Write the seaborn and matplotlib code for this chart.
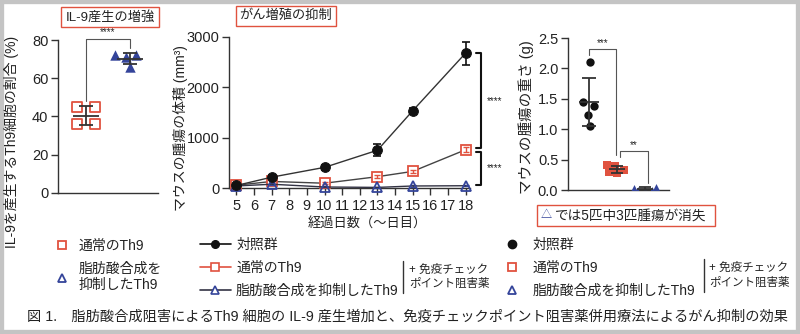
import numpy as np
import pandas as pd
import matplotlib
matplotlib.use("Agg")
import matplotlib.pyplot as plt
import seaborn as sns
from matplotlib.lines import Line2D
from matplotlib.patches import Rectangle

# ---------------- data ----------------
il9_groups = ["通常のTh9", "脂肪酸合成を抑制したTh9"]
il9_normal = [45, 45, 36, 36]
il9_fasi = [72, 72, 71, 66]
il9_ticks = [0, 20, 40, 60, 80]

days = [5, 7, 10, 13, 15, 18]
day_ticks = list(range(5, 19))
vol_control = [50, 215, 410, 750, 1535, 2680]
vol_control_err = [20, 35, 45, 120, 60, 230]
vol_normal = [55, 130, 95, 225, 330, 760]
vol_normal_err = [15, 20, 25, 30, 35, 45]
vol_fasi = [40, 75, 20, 12, 40, 45]
vol_fasi_err = [10, 15, 10, 10, 15, 15]
vol_ticks = [0, 1000, 2000, 3000]

weight_groups = ["対照群", "通常のTh9", "脂肪酸合成を抑制したTh9"]
weight_control = [2.10, 1.44, 1.38, 1.23, 1.06]
weight_normal = [0.41, 0.40, 0.33, 0.29, 0.28]
weight_fasi = [0.05, 0.04, 0.0, 0.0, 0.0]
weight_ticks = [0.0, 0.5, 1.0, 1.5, 2.0, 2.5]

legend_labels = ["対照群", "通常のTh9", "脂肪酸合成を抑制したTh9"]
left_legend_labels = ["通常のTh9", "脂肪酸合成を\n抑制したTh9"]
combo_text = "+ 免疫チェック\nポイント阻害薬"
caption = "図 1.　脂肪酸合成阻害によるTh9 細胞の IL-9 産生増加と、免疫チェックポイント阻害薬併用療法によるがん抑制の効果"

# ---------------- style ----------------
RED = "#e0523f"
BLUE = "#34449a"
BLACK = "#111111"
DARK = "#333333"

sns.set_theme(style="ticks")
plt.rcParams["font.family"] = ["Liberation Sans", "Noto Sans CJK JP", "DejaVu Sans"]
plt.rcParams["text.color"] = "#222222"
plt.rcParams["axes.edgecolor"] = DARK
plt.rcParams["axes.linewidth"] = 1.0

W, H = 800, 334
fig = plt.figure(figsize=(W / 100, H / 100), dpi=100)
fig.patch.set_facecolor("white")


def fx(px):
    return px / W


def fy(py):
    return 1 - py / H


def make_ax(l, t, r, b):
    return fig.add_axes([fx(l), fy(b), (r - l) / W, (b - t) / H])


def style_ax(ax):
    sns.despine(ax=ax)
    ax.tick_params(axis="both", direction="out", length=5, width=1,
                   color=DARK, labelsize=10.5, labelcolor="#222222", pad=2)
    ax.set_facecolor("none")


swarms = []


def swarm(ax, values, group, order, marker, color, size, spread, filled):
    df = pd.DataFrame({"g": [group] * len(values), "v": values})
    n0 = len(ax.collections)
    sns.swarmplot(data=df, x="g", y="v", order=order, marker=marker,
                  color=color, size=spread, linewidth=0, ax=ax, zorder=3)
    coll = ax.collections[n0]
    swarms.append((coll, order.index(group), size, color, filled))


def mean_sd(ax, pos, values, cap, half):
    m = np.mean(values)
    sd = np.std(values, ddof=1)
    ax.errorbar([pos], [m], yerr=[sd], fmt="none", ecolor=DARK,
                elinewidth=1.3, capsize=cap, capthick=1.3, zorder=4)
    ax.hlines(m, pos - half, pos + half, color=DARK, lw=1.3, zorder=4)


# ---------------- panel 1 ----------------
ax1 = make_ax(58, 40, 158, 193)
swarm(ax1, il9_normal, il9_groups[0], il9_groups, "s", RED, 7.5, 12, False)
swarm(ax1, il9_fasi, il9_groups[1], il9_groups, "^", BLUE, 7.5, 7.5, False)
mean_sd(ax1, 0, il9_normal, 5, 0.3)
mean_sd(ax1, 1, il9_fasi, 5, 0.3)
ax1.set_xlim(-0.64, 1.64)
ax1.set_ylim(0, 80)
ax1.set_yticks(il9_ticks)
ax1.set_xticks([])
ax1.set_xlabel("")
ax1.set_ylabel("")
style_ax(ax1)
ax1.plot([0, 0, 1, 1], [48, 80.5, 80.5, 76], color="#555555", lw=0.8, clip_on=False)
ax1.text(0.5, 81.5, "****", ha="center", va="bottom", fontsize=7, clip_on=False)

# ---------------- panel 2 ----------------
ax2 = make_ax(229, 37, 470, 188)
sns.lineplot(x=days, y=vol_control, ax=ax2, color=DARK, lw=1, marker="o",
             markersize=7, markerfacecolor=BLACK, markeredgecolor=BLACK,
             zorder=5, clip_on=False)
sns.lineplot(x=days, y=vol_normal, ax=ax2, color="#444444", lw=1, marker="s",
             markersize=7, markerfacecolor="white", markeredgecolor=RED,
             markeredgewidth=1.3, zorder=4, clip_on=False)
sns.lineplot(x=days, y=vol_fasi, ax=ax2, color="#333344", lw=1, marker="^",
             markersize=7, markerfacecolor="none", markeredgecolor=BLUE,
             markeredgewidth=1.3, zorder=4.5, clip_on=False)
ax2.errorbar(days, vol_control, yerr=vol_control_err, fmt="none", ecolor=BLACK,
             elinewidth=1.2, capsize=3, capthick=1.2, zorder=5, clip_on=False)
ax2.errorbar(days, vol_normal, yerr=vol_normal_err, fmt="none", ecolor=RED,
             elinewidth=1.0, capsize=2, capthick=1.0, zorder=4, clip_on=False)
ax2.errorbar(days, vol_fasi, yerr=vol_fasi_err, fmt="none", ecolor=BLUE,
             elinewidth=1.0, capsize=2, capthick=1.0, zorder=4, clip_on=False)
ax2.set_xlim(4.58, 18.25)
ax2.set_ylim(0, 3000)
ax2.set_xticks(day_ticks)
ax2.set_yticks(vol_ticks)
ax2.set_xlabel("")
ax2.set_ylabel("")
style_ax(ax2)
ax2.tick_params(axis="x", pad=3)
bx = 18.9
ax2.plot([18.6, bx, bx, 18.6], [vol_control[-1], vol_control[-1], 800, 800],
         color=BLACK, lw=1.5, clip_on=False)
ax2.plot([18.6, bx, bx, 18.6], [715, 715, 50, 50],
         color=BLACK, lw=1.5, clip_on=False)
ax2.text(19.65, 1720, "****", ha="center", va="center", fontsize=7, clip_on=False)
ax2.text(19.65, 400, "****", ha="center", va="center", fontsize=7, clip_on=False)

# ---------------- panel 3 ----------------
ax3 = make_ax(568, 38, 669, 190)
swarm(ax3, weight_control, weight_groups[0], weight_groups, "o", BLACK, 6, 7.5, True)
swarm(ax3, weight_normal, weight_groups[1], weight_groups, "s", RED, 6, 5.5, False)
swarm(ax3, weight_fasi, weight_groups[2], weight_groups, "^", BLUE, 6, 5.0, False)
mean_sd(ax3, 0, weight_control, 5, 0.35)
mean_sd(ax3, 1, weight_normal, 4, 0.3)
mean_sd(ax3, 2, weight_fasi, 4, 0.3)
ax3.set_xlim(-0.75, 2.86)
ax3.set_ylim(0, 2.5)
ax3.set_yticks(weight_ticks)
ax3.set_yticklabels([f"{v:.1f}" for v in weight_ticks])
ax3.set_xticks([])
ax3.set_xlabel("")
ax3.set_ylabel("")
style_ax(ax3)
ax3.plot([0, 0, 0.95, 0.95], [2.22, 2.32, 2.32, 0.58], color="#555555", lw=0.8, clip_on=False)
ax3.text(0.48, 2.34, "***", ha="center", va="bottom", fontsize=7, clip_on=False)
ax3.plot([1.12, 1.12, 2.1, 2.1], [0.55, 0.64, 0.64, 0.11], color="#555555", lw=0.8, clip_on=False)
ax3.text(1.6, 0.66, "**", ha="center", va="bottom", fontsize=7, clip_on=False)

# finalize swarms: compute positions with spacing size, centre them, shrink markers
fig.canvas.draw()
for coll, pos, size, color, filled in swarms:
    if "draw" in coll.__dict__:
        del coll.draw
    off = np.asarray(coll.get_offsets(), dtype=float).copy()
    off[:, 0] += pos - off[:, 0].mean()
    coll.set_offsets(off)
    coll.set_sizes([size ** 2])
    coll.set_clip_on(False)
    if filled:
        coll.set_facecolor(color)
        coll.set_edgecolor(color)
    else:
        coll.set_facecolor("white")
        coll.set_edgecolor(color)
        coll.set_linewidth(1.3)

# ---------------- axis labels ----------------
fig.text(fx(11), fy(142), "IL-9を産生するTh9細胞の割合 (%)", rotation=90,
         ha="center", va="center", fontsize=10)
fig.text(fx(180), fy(128), "マウスの腫瘍の体積 (mm³)", rotation=90,
         ha="center", va="center", fontsize=10)
fig.text(fx(367), fy(223), "経過日数（〜日目）", ha="center", va="center", fontsize=9.5)
fig.text(fx(526), fy(117), "マウスの腫瘍の重さ (g)", rotation=90,
         ha="center", va="center", fontsize=10.5)

# ---------------- title boxes ----------------
box = dict(boxstyle="square,pad=0.3", fc="white", ec=RED, lw=1)
fig.text(fx(110), fy(17), "IL-9産生の増強", ha="center", va="center", fontsize=9.5, bbox=box)
fig.text(fx(286), fy(16), "がん増殖の抑制", ha="center", va="center", fontsize=9.5, bbox=box)

fig.add_artist(Rectangle((fx(537), fy(226)), (715 - 537) / W, 21 / H,
                         transform=fig.transFigure, fill=False, ec=RED, lw=1))
fig.text(fx(546), fy(215.5), "△", ha="center", va="center", fontsize=8, color=BLUE)
fig.text(fx(555), fy(215.5), "では5匹中3匹腫瘍が消失", ha="left", va="center", fontsize=9.8)

# ---------------- legends ----------------
h_left = [Line2D([], [], ls="none", marker="s", ms=6, mfc="none", mec=RED, mew=1.3),
          Line2D([], [], ls="none", marker="^", ms=6, mfc="none", mec=BLUE, mew=1.3)]
fig.legend(h_left, left_legend_labels, loc="upper left", bbox_to_anchor=(fx(55), fy(239)),
           frameon=False, fontsize=10, handlelength=1.0, handletextpad=0.7,
           labelspacing=0.65, borderpad=0, borderaxespad=0)

h_mid = [Line2D([], [], color=BLACK, lw=1.2, marker="o", ms=5.5, mfc=BLACK, mec=BLACK),
         Line2D([], [], color=RED, lw=1.2, marker="s", ms=5.5, mfc="white", mec=RED, mew=1.2),
         Line2D([], [], color="#333344", lw=1.2, marker="^", ms=5.5, mfc="white", mec=BLUE, mew=1.2)]
fig.legend(h_mid, legend_labels, loc="upper left", bbox_to_anchor=(fx(200), fy(238)),
           frameon=False, fontsize=10, handlelength=2.2, handletextpad=0.4,
           labelspacing=0.65, borderpad=0, borderaxespad=0)

h_right = [Line2D([], [], ls="none", marker="o", ms=6, mfc=BLACK, mec=BLACK),
           Line2D([], [], ls="none", marker="s", ms=6, mfc="none", mec=RED, mew=1.3),
           Line2D([], [], ls="none", marker="^", ms=6, mfc="none", mec=BLUE, mew=1.3)]
fig.legend(h_right, legend_labels, loc="upper left", bbox_to_anchor=(fx(505), fy(238)),
           frameon=False, fontsize=10, handlelength=1.0, handletextpad=1.0,
           labelspacing=0.65, borderpad=0, borderaxespad=0)

for lx, ty, by, tx in [(403, 261, 293, 409), (704, 259, 292, 709)]:
    fig.add_artist(Line2D([fx(lx), fx(lx)], [fy(ty), fy(by)], color=DARK, lw=1,
                          transform=fig.transFigure))
    fig.text(fx(tx), fy((ty + by) / 2), combo_text, ha="left", va="center",
             fontsize=8.3, linespacing=1.3)

# ---------------- caption & frame ----------------
fig.text(fx(27), fy(317), caption, ha="left", va="center", fontsize=10.25)
fig.add_artist(Rectangle((0, 0), 1, 1, transform=fig.transFigure, fill=False,
                         ec="#c4c4c4", lw=6))

fig.savefig("out.png", dpi=100)
